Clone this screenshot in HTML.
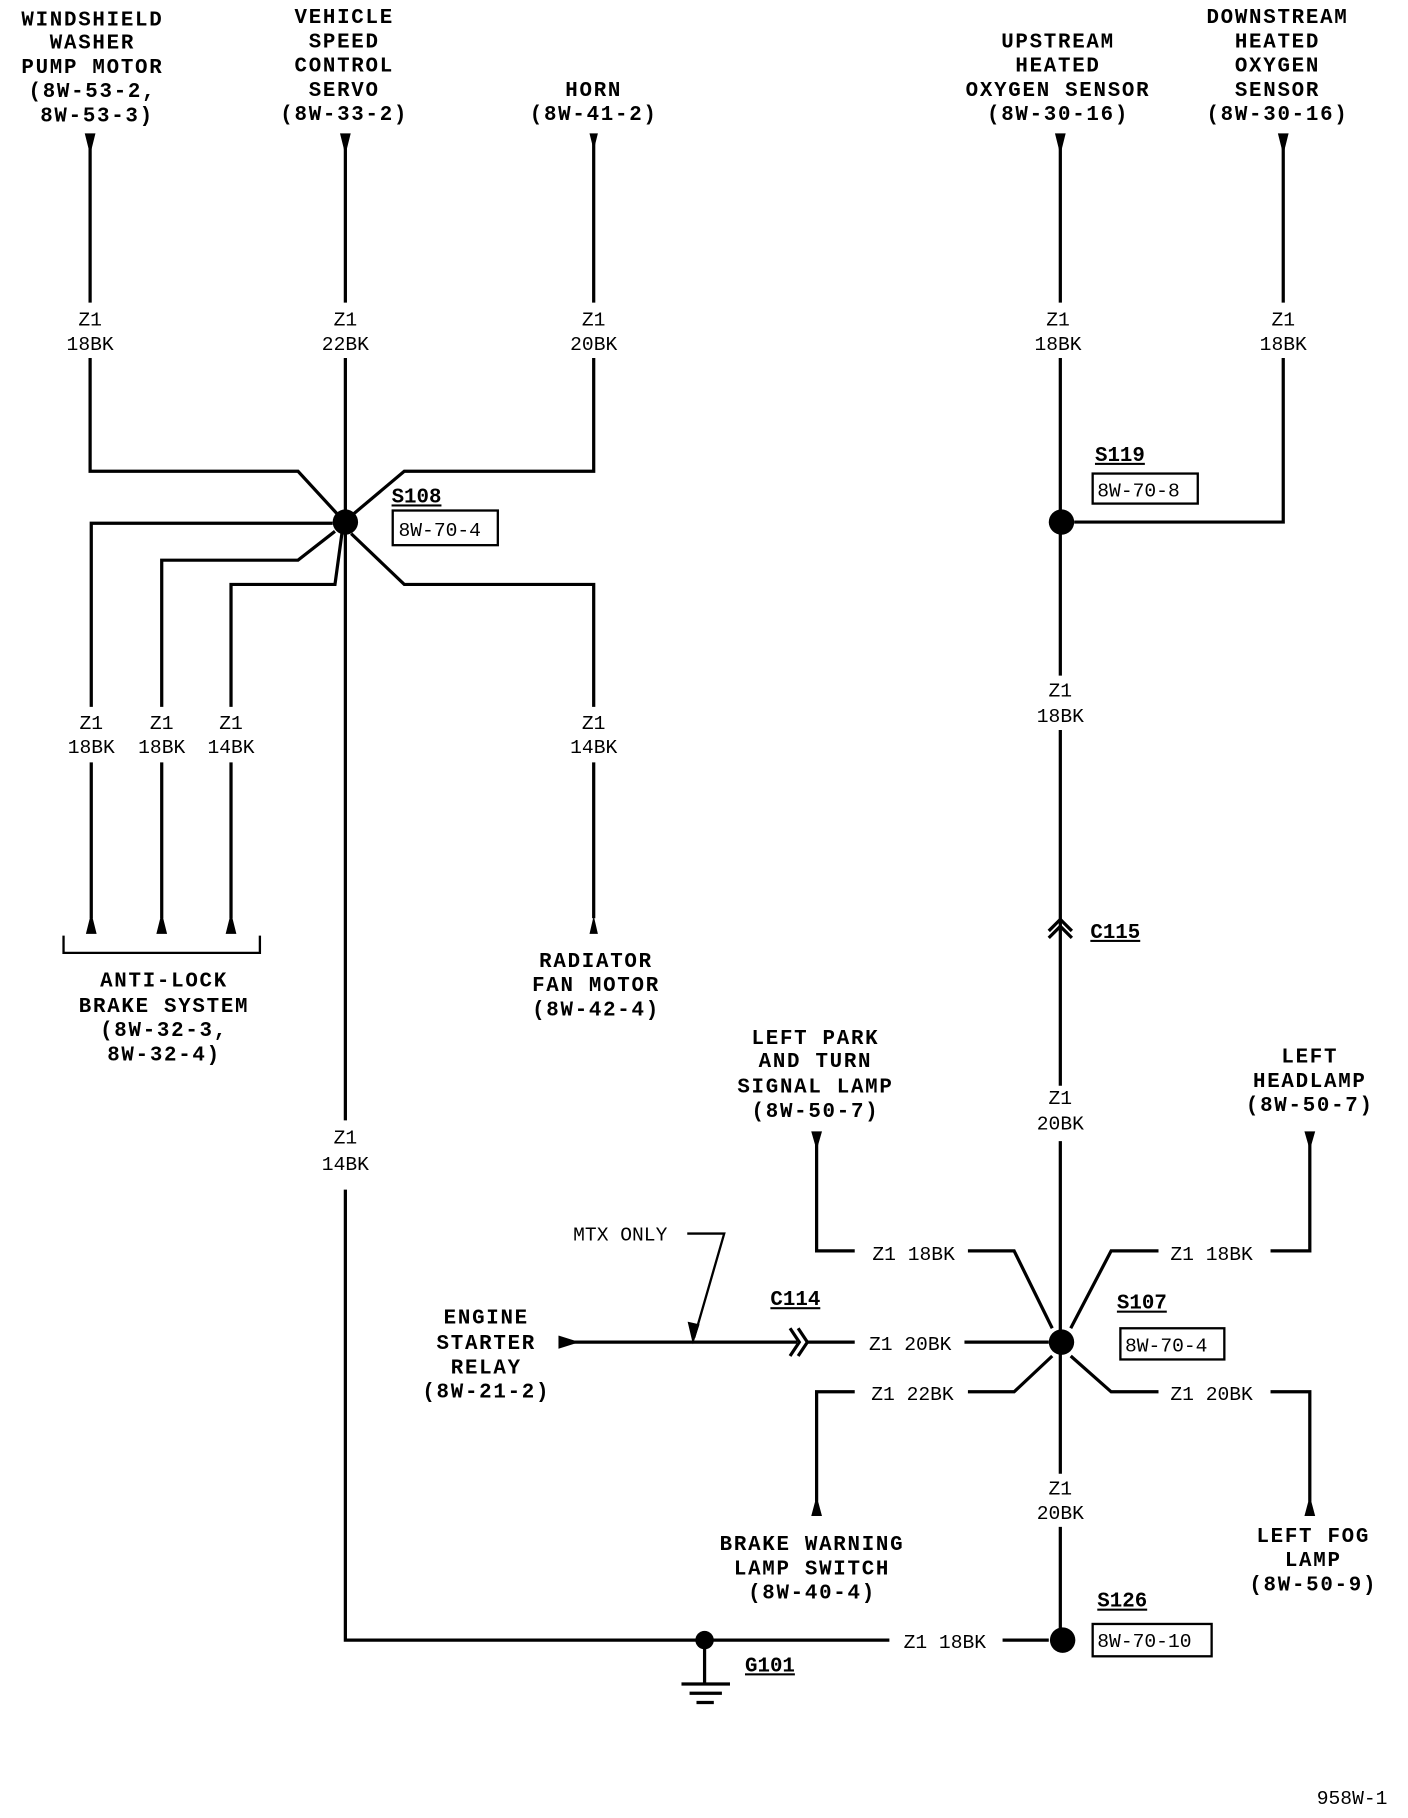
<!DOCTYPE html>
<html><head><meta charset="utf-8"><style>
html,body{margin:0;padding:0;background:#fff}
svg{display:block}
.t{font-family:"Liberation Mono",monospace;font-weight:bold;font-size:18px;letter-spacing:1.5px;text-anchor:middle;fill:#000}
.w{font-family:"Liberation Mono",monospace;font-size:17px;text-anchor:middle;fill:#000}
.s{font-family:"Liberation Mono",monospace;font-weight:bold;font-size:18px;fill:#000;text-decoration:underline}
.b{font-family:"Liberation Mono",monospace;font-size:17px;fill:#000}
line,polyline{stroke:#000;stroke-width:2.8;fill:none}
.a{fill:#000;stroke:#000;stroke-width:1}
</style></head><body>
<svg width="1408" height="1818" viewBox="0 0 1219 1574" xmlns="http://www.w3.org/2000/svg">
<text class="t" x="80" y="22">WINDSHIELD</text><text class="t" x="80" y="42">WASHER</text><text class="t" x="80" y="63">PUMP MOTOR</text><text class="t" x="80" y="84">(8W-53-2,</text><text class="t" x="84" y="105">8W-53-3)</text>
<text class="t" x="298" y="20">VEHICLE</text><text class="t" x="298" y="41">SPEED</text><text class="t" x="298" y="62">CONTROL</text><text class="t" x="298" y="83">SERVO</text><text class="t" x="298" y="104">(8W-33-2)</text>
<text class="t" x="514" y="83">HORN</text><text class="t" x="514" y="104">(8W-41-2)</text>
<text class="t" x="916" y="41">UPSTREAM</text><text class="t" x="916" y="62">HEATED</text><text class="t" x="916" y="83">OXYGEN SENSOR</text><text class="t" x="916" y="104">(8W-30-16)</text>
<text class="t" x="1106" y="20">DOWNSTREAM</text><text class="t" x="1106" y="41">HEATED</text><text class="t" x="1106" y="62">OXYGEN</text><text class="t" x="1106" y="83">SENSOR</text><text class="t" x="1106" y="104">(8W-30-16)</text>
<path class="a" d="M74 116 L82 116 L78 132 Z"/><path class="a" d="M295 116 L303 116 L299 132 Z"/><path class="a" d="M511 116 L517 116 L514 128 Z"/>
<path class="a" d="M914 116 L922 116 L918 132 Z"/><path class="a" d="M1107 116 L1115 116 L1111 132 Z"/>
<polyline points="78,120 78,262"/><polyline points="78,310 78,408 258,408 292,445"/>
<polyline points="299,120 299,262"/><polyline points="299,310 299,970"/><polyline points="299,1030 299,1420 770,1420"/>
<polyline points="514,120 514,262"/><polyline points="514,310 514,408 350,408 306,445"/>
<polyline points="79,612 79,453 288,453"/><polyline points="140,612 140,485 258,485 290,460"/><polyline points="200,612 200,506 290,506 296,462"/>
<polyline points="304,462 350,506 514,506 514,612"/>
<polyline points="79,660 79,795"/><polyline points="140,660 140,795"/><polyline points="200,660 200,795"/><polyline points="514,660 514,795"/>
<path class="a" d="M75 808 L83 808 L79 792 Z"/><path class="a" d="M136 808 L144 808 L140 792 Z"/><path class="a" d="M196 808 L204 808 L200 792 Z"/><path class="a" d="M511 808 L517 808 L514 795 Z"/>
<polyline points="55,810 55,825 225,825 225,810" style="stroke-width:2"/>
<circle cx="299" cy="452" r="11" fill="#000"/>
<text class="w" x="78" y="282">Z1</text><text class="w" x="78" y="303">18BK</text>
<text class="w" x="299" y="282">Z1</text><text class="w" x="299" y="303">22BK</text>
<text class="w" x="514" y="282">Z1</text><text class="w" x="514" y="303">20BK</text>
<text class="w" x="79" y="631">Z1</text><text class="w" x="79" y="652">18BK</text>
<text class="w" x="140" y="631">Z1</text><text class="w" x="140" y="652">18BK</text>
<text class="w" x="200" y="631">Z1</text><text class="w" x="200" y="652">14BK</text>
<text class="w" x="514" y="631">Z1</text><text class="w" x="514" y="652">14BK</text>
<text class="w" x="299" y="990">Z1</text><text class="w" x="299" y="1013">14BK</text>
<text class="s" x="339" y="435">S108</text><rect x="340" y="442" width="91" height="30" fill="none" stroke="#000" stroke-width="2"/><text class="b" x="345" y="464">8W-70-4</text>
<text class="t" x="142" y="854">ANTI-LOCK</text><text class="t" x="142" y="876">BRAKE SYSTEM</text><text class="t" x="142" y="897">(8W-32-3,</text><text class="t" x="142" y="918">8W-32-4)</text>
<text class="t" x="516" y="837">RADIATOR</text><text class="t" x="516" y="858">FAN MOTOR</text><text class="t" x="516" y="879">(8W-42-4)</text>
<polyline points="918,120 918,262"/><polyline points="918,310 918,585"/><polyline points="918,632 918,940"/><polyline points="918,988 918,1276"/><polyline points="918,1322 918,1420"/>
<polyline points="1111,120 1111,262"/><polyline points="1111,310 1111,452 930,452"/>
<polyline points="908,806 918,796 928,806"/><polyline points="908,812 918,802 928,812"/>
<circle cx="919" cy="452" r="11" fill="#000"/><circle cx="919" cy="1162" r="11" fill="#000"/><circle cx="920" cy="1420" r="11" fill="#000"/>
<text class="w" x="916" y="282">Z1</text><text class="w" x="916" y="303">18BK</text>
<text class="w" x="1111" y="282">Z1</text><text class="w" x="1111" y="303">18BK</text>
<text class="w" x="918" y="603">Z1</text><text class="w" x="918" y="625">18BK</text>
<text class="w" x="918" y="956">Z1</text><text class="w" x="918" y="978">20BK</text>
<text class="w" x="918" y="1294">Z1</text><text class="w" x="918" y="1315">20BK</text>
<text class="s" x="948" y="399">S119</text><rect x="946" y="410" width="91" height="26" fill="none" stroke="#000" stroke-width="2"/><text class="b" x="950" y="430">8W-70-8</text>
<text class="s" x="944" y="812">C115</text>
<path class="a" d="M703 980 L711 980 L707 994 Z"/><path class="a" d="M1130 980 L1138 980 L1134 994 Z"/>
<polyline points="707,985 707,1083 740,1083"/><polyline points="838,1083 878,1083 911,1150"/>
<polyline points="927,1150 962,1083 1003,1083"/><polyline points="1100,1083 1134,1083 1134,985"/>
<polyline points="497,1162 690,1162"/><path class="a" d="M484 1157 L500 1162 L484 1167 Z"/>
<polyline points="684,1150 692,1162 684,1174"/><polyline points="691,1150 699,1162 691,1174"/><polyline points="699,1162 740,1162"/>
<polyline points="835,1162 908,1162"/>
<polyline points="911,1174 878,1205 838,1205"/><polyline points="740,1205 707,1205 707,1300"/>
<polyline points="927,1174 962,1205 1003,1205"/><polyline points="1100,1205 1134,1205 1134,1300"/>
<path class="a" d="M703 1312 L711 1312 L707 1297 Z"/><path class="a" d="M1130 1312 L1138 1312 L1134 1297 Z"/>
<text class="w" x="791" y="1091">Z1 18BK</text><text class="w" x="1049" y="1091">Z1 18BK</text>
<text class="w" x="788" y="1169">Z1 20BK</text>
<text class="w" x="790" y="1212">Z1 22BK</text><text class="w" x="1049" y="1212">Z1 20BK</text>
<text class="w" x="537" y="1074">MTX ONLY</text>
<polyline points="595,1068 627,1068 601,1158" style="stroke-width:2"/><path class="a" d="M596 1145 L605 1147 L600 1162 Z"/>
<text class="s" x="667" y="1130">C114</text>
<text class="s" x="967" y="1133">S107</text><rect x="970" y="1150" width="90" height="27" fill="none" stroke="#000" stroke-width="2"/><text class="b" x="974" y="1170">8W-70-4</text>
<text class="t" x="706" y="904">LEFT PARK</text><text class="t" x="706" y="924">AND TURN</text><text class="t" x="706" y="946">SIGNAL LAMP</text><text class="t" x="706" y="967">(8W-50-7)</text>
<text class="t" x="1134" y="920">LEFT</text><text class="t" x="1134" y="941">HEADLAMP</text><text class="t" x="1134" y="962">(8W-50-7)</text>
<text class="t" x="421" y="1146">ENGINE</text><text class="t" x="421" y="1168">STARTER</text><text class="t" x="421" y="1189">RELAY</text><text class="t" x="421" y="1210">(8W-21-2)</text>
<text class="t" x="703" y="1342">BRAKE WARNING</text><text class="t" x="703" y="1363">LAMP SWITCH</text><text class="t" x="703" y="1384">(8W-40-4)</text>
<text class="t" x="1137" y="1335">LEFT FOG</text><text class="t" x="1137" y="1356">LAMP</text><text class="t" x="1137" y="1377">(8W-50-9)</text>
<circle cx="610" cy="1420" r="8" fill="#000"/>
<polyline points="610,1420 610,1457"/><line x1="590" y1="1458" x2="632" y2="1458"/><line x1="597" y1="1466" x2="625" y2="1466"/><line x1="603" y1="1474" x2="618" y2="1474"/>
<text class="s" x="645" y="1447">G101</text>
<polyline points="868,1420 908,1420"/>
<text class="w" x="818" y="1427">Z1 18BK</text>
<text class="s" x="950" y="1391">S126</text><rect x="946" y="1406" width="103" height="28" fill="none" stroke="#000" stroke-width="2"/><text class="b" x="950" y="1426">8W-70-10</text>
<text class="b" x="1140" y="1562">958W-1</text>
</svg>
</body></html>
